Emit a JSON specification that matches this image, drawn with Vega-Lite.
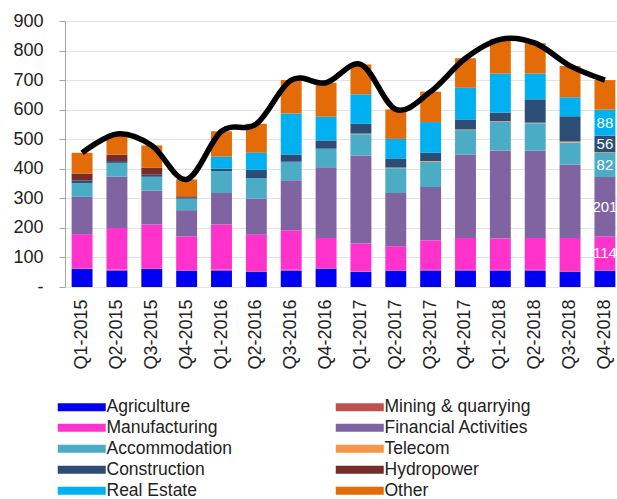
{
  "$schema": "https://vega.github.io/schema/vega-lite/v6.json",
  "width": 557,
  "height": 266,
  "autosize": {"type": "none"},
  "padding": {"left": 65, "top": 21, "right": 0, "bottom": 212},
  "background": "white",
  "config": {
    "view": {"stroke": null},
    "font": "Liberation Sans",
    "axisY": {"title": null, "values": [0, 100, 200, 300, 400, 500, 600, 700, 800, 900], "labelExpr": "datum.value == 0 ? '-' : datum.label", "labelFontSize": 18, "labelColor": "#222222", "labelPadding": 16, "tickSize": 6, "tickColor": "#a6a6a6", "domainColor": "#a6a6a6", "gridColor": "#e3e3e3", "labelOverlap": false, "labelFlush": false}
  },
  "datasets": {
    "quarters": [
      {"q": "Q1-2015", "Agriculture": 61, "Mining & quarrying": 2, "Manufacturing": 116, "Financial Activities": 126, "Accommodation": 47, "Telecom": 0, "Construction": 8, "Hydropower": 24, "Real Estate": 0, "Other": 70},
      {"q": "Q2-2015", "Agriculture": 56, "Mining & quarrying": 2, "Manufacturing": 142, "Financial Activities": 173, "Accommodation": 47, "Telecom": 0, "Construction": 6, "Hydropower": 22, "Real Estate": 0, "Other": 70},
      {"q": "Q3-2015", "Agriculture": 61, "Mining & quarrying": 2, "Manufacturing": 148, "Financial Activities": 115, "Accommodation": 47, "Telecom": 0, "Construction": 7, "Hydropower": 23, "Real Estate": 0, "Other": 76},
      {"q": "Q4-2015", "Agriculture": 55, "Mining & quarrying": 2, "Manufacturing": 114, "Financial Activities": 89, "Accommodation": 39, "Telecom": 0, "Construction": 3, "Hydropower": 5, "Real Estate": 0, "Other": 57},
      {"q": "Q1-2016", "Agriculture": 56, "Mining & quarrying": 2, "Manufacturing": 153, "Financial Activities": 107, "Accommodation": 74, "Telecom": 0, "Construction": 8, "Hydropower": 0, "Real Estate": 41, "Other": 86},
      {"q": "Q2-2016", "Agriculture": 51, "Mining & quarrying": 2, "Manufacturing": 124, "Financial Activities": 122, "Accommodation": 70, "Telecom": 0, "Construction": 28, "Hydropower": 0, "Real Estate": 57, "Other": 98},
      {"q": "Q3-2016", "Agriculture": 56, "Mining & quarrying": 2, "Manufacturing": 134, "Financial Activities": 169, "Accommodation": 63, "Telecom": 0, "Construction": 24, "Hydropower": 0, "Real Estate": 139, "Other": 113},
      {"q": "Q4-2016", "Agriculture": 62, "Mining & quarrying": 2, "Manufacturing": 102, "Financial Activities": 239, "Accommodation": 63, "Telecom": 0, "Construction": 28, "Hydropower": 0, "Real Estate": 80, "Other": 115},
      {"q": "Q1-2017", "Agriculture": 51, "Mining & quarrying": 2, "Manufacturing": 94, "Financial Activities": 298, "Accommodation": 72, "Telecom": 2, "Construction": 33, "Hydropower": 0, "Real Estate": 100, "Other": 101},
      {"q": "Q2-2017", "Agriculture": 55, "Mining & quarrying": 2, "Manufacturing": 81, "Financial Activities": 180, "Accommodation": 84, "Telecom": 2, "Construction": 31, "Hydropower": 0, "Real Estate": 66, "Other": 100},
      {"q": "Q3-2017", "Agriculture": 56, "Mining & quarrying": 2, "Manufacturing": 100, "Financial Activities": 180, "Accommodation": 86, "Telecom": 2, "Construction": 28, "Hydropower": 0, "Real Estate": 104, "Other": 103},
      {"q": "Q4-2017", "Agriculture": 56, "Mining & quarrying": 2, "Manufacturing": 108, "Financial Activities": 282, "Accommodation": 83, "Telecom": 2, "Construction": 34, "Hydropower": 0, "Real Estate": 107, "Other": 100},
      {"q": "Q1-2018", "Agriculture": 56, "Mining & quarrying": 2, "Manufacturing": 106, "Financial Activities": 298, "Accommodation": 97, "Telecom": 2, "Construction": 29, "Hydropower": 0, "Real Estate": 132, "Other": 116},
      {"q": "Q2-2018", "Agriculture": 56, "Mining & quarrying": 2, "Manufacturing": 108, "Financial Activities": 296, "Accommodation": 92, "Telecom": 2, "Construction": 79, "Hydropower": 0, "Real Estate": 87, "Other": 103},
      {"q": "Q3-2018", "Agriculture": 51, "Mining & quarrying": 2, "Manufacturing": 113, "Financial Activities": 248, "Accommodation": 74, "Telecom": 4, "Construction": 86, "Hydropower": 0, "Real Estate": 64, "Other": 106},
      {"q": "Q4-2018", "Agriculture": 55, "Mining & quarrying": 2, "Manufacturing": 114, "Financial Activities": 201, "Accommodation": 82, "Telecom": 2, "Construction": 56, "Hydropower": 0, "Real Estate": 88, "Other": 100}
    ],
    "sectors": [
      {"sector": "Agriculture", "rank": 1},
      {"sector": "Mining & quarrying", "rank": 2},
      {"sector": "Manufacturing", "rank": 3},
      {"sector": "Financial Activities", "rank": 4},
      {"sector": "Accommodation", "rank": 5},
      {"sector": "Telecom", "rank": 6},
      {"sector": "Construction", "rank": 7},
      {"sector": "Hydropower", "rank": 8},
      {"sector": "Real Estate", "rank": 9},
      {"sector": "Other", "rank": 10}
    ]
  },
  "data": {"name": "quarters"},
  "transform": [
    {"fold": ["Agriculture", "Mining & quarrying", "Manufacturing", "Financial Activities", "Accommodation", "Telecom", "Construction", "Hydropower", "Real Estate", "Other"], "as": ["sector", "value"]},
    {"lookup": "sector", "from": {"data": {"name": "sectors"}, "key": "sector", "fields": ["rank"]}}
  ],
  "encoding": {
    "x": {
      "field": "q",
      "type": "nominal",
      "sort": ["Q1-2015", "Q2-2015", "Q3-2015", "Q4-2015", "Q1-2016", "Q2-2016", "Q3-2016", "Q4-2016", "Q1-2017", "Q2-2017", "Q3-2017", "Q4-2017", "Q1-2018", "Q2-2018", "Q3-2018", "Q4-2018"],
      "scale": {"paddingInner": 0.4, "paddingOuter": 0.19},
      "axis": {"title": null, "labelAngle": -90, "labelFontSize": 18, "labelColor": "#222222", "ticks": false, "domainColor": "#e6e6d8", "labelPadding": 12, "grid": false, "labelOverlap": false}
    }
  },
  "layer": [
    {
      "mark": {"type": "bar"},
      "encoding": {
        "y": {
          "field": "value",
          "type": "quantitative",
          "stack": "zero",
          "scale": {"domain": [0, 900], "nice": false},
          "axis": {"title": null}
        },
        "color": {
          "field": "sector",
          "type": "nominal",
          "scale": {
            "domain": ["Agriculture", "Mining & quarrying", "Manufacturing", "Financial Activities", "Accommodation", "Telecom", "Construction", "Hydropower", "Real Estate", "Other"],
            "range": ["#0000f5", "#c0504d", "#ff33cc", "#8064a2", "#4bacc6", "#f79646", "#2c4d75", "#772c2a", "#00b0f0", "#e36c09"]
          },
          "legend": {"orient": "none", "legendX": -13, "legendY": 377, "direction": "horizontal", "columns": 2, "columnPadding": 98, "rowPadding": 2, "title": null, "labelFontSize": 17.5, "labelColor": "#222222", "symbolType": "M-4.8,-0.8H4.8V0.8H-4.8Z", "symbolSize": 100, "symbolOffset": 21, "labelOffset": 16, "symbolStrokeWidth": 0, "padding": 0, "labelLimit": 300}
        },
        "order": {"field": "rank", "type": "quantitative", "sort": "ascending"}
      }
    },
    {
      "transform": [{"aggregate": [{"op": "sum", "field": "value", "as": "total"}], "groupby": ["q"]}],
      "mark": {"type": "line", "interpolate": "cardinal", "color": "black", "strokeWidth": 5.5},
      "encoding": {"y": {"field": "total", "type": "quantitative", "axis": {"title": null}}}
    },
    {
      "transform": [
        {"filter": {"field": "q", "equal": "Q4-2018"}},
        {"stack": "value", "groupby": ["q"], "sort": [{"field": "rank", "order": "ascending"}], "as": ["y0", "y1"]},
        {"filter": {"field": "sector", "oneOf": ["Manufacturing", "Financial Activities", "Accommodation", "Construction", "Real Estate"]}},
        {"fold": ["y0", "y1"], "as": ["yk", "yy"]},
        {"aggregate": [{"op": "mean", "field": "yy", "as": "ymid"}], "groupby": ["q", "sector", "value"]}
      ],
      "mark": {"type": "text", "color": "white", "fontSize": 15},
      "encoding": {"y": {"field": "ymid", "type": "quantitative", "axis": {"title": null}}, "text": {"field": "value", "type": "quantitative"}}
    }
  ]
}
